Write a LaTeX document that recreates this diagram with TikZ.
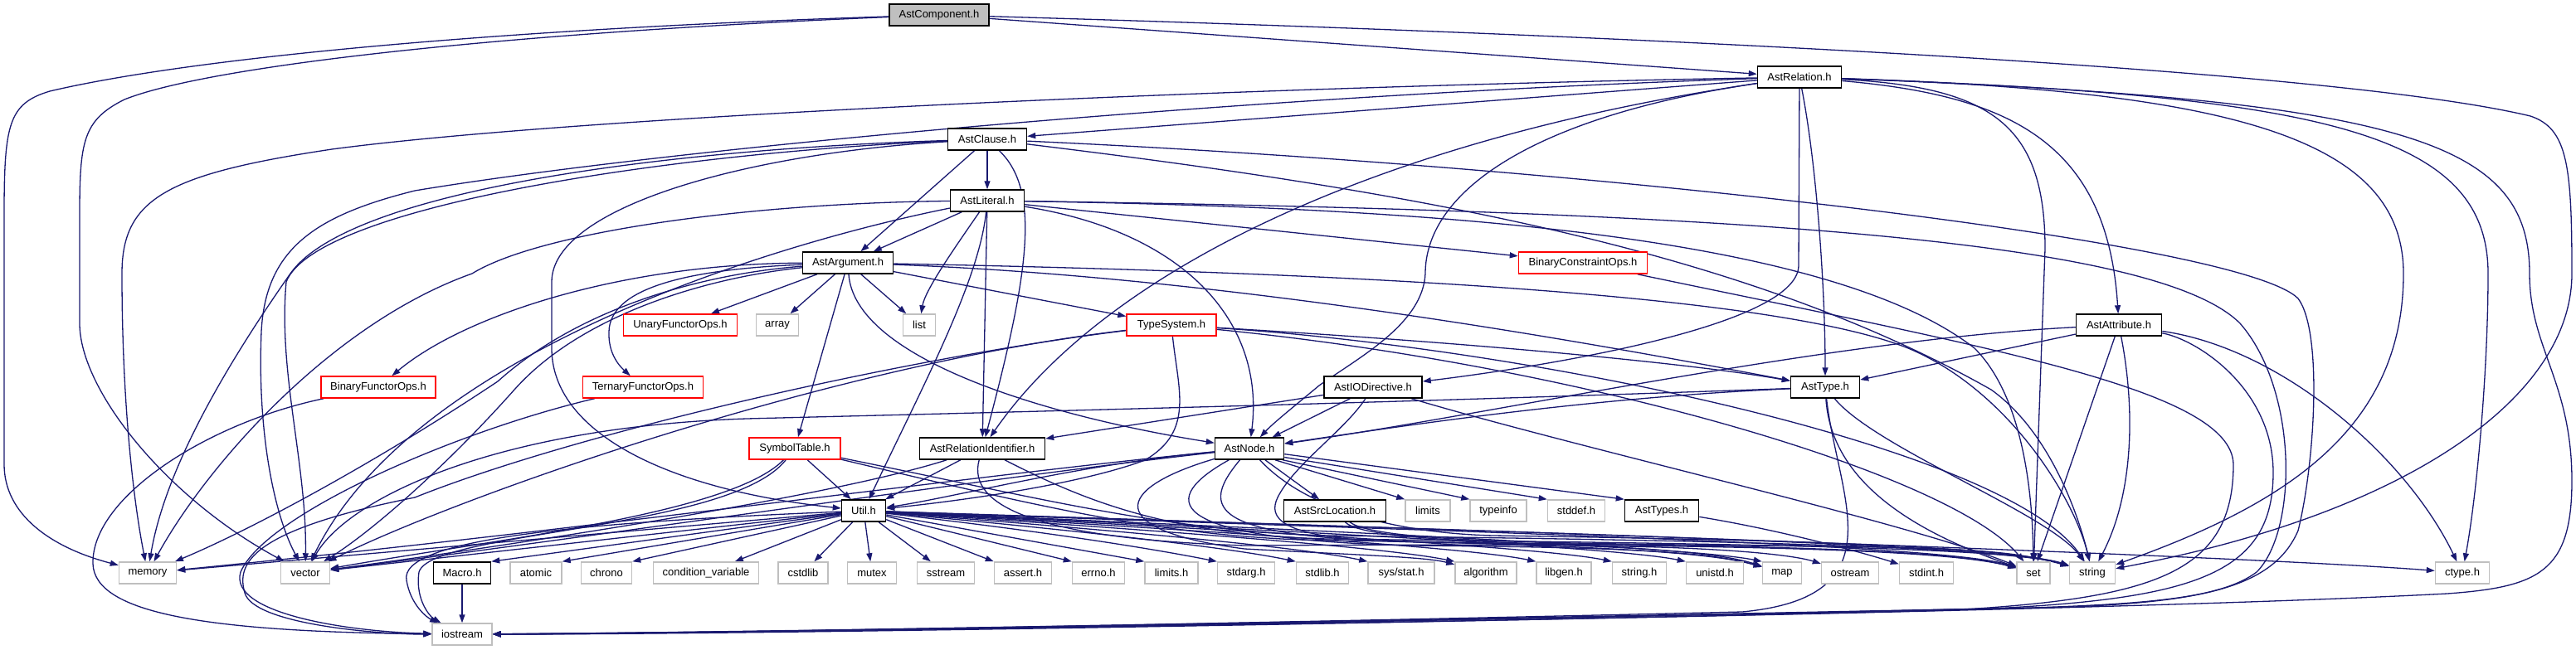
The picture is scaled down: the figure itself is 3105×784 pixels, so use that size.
\documentclass[tikz,border=0pt]{standalone}
\usepackage{fontspec}
\setmainfont{Liberation Sans}
\usetikzlibrary{arrows.meta,backgrounds}
\definecolor{mb}{HTML}{191970}
\definecolor{gb}{HTML}{BFBFBF}
\begin{document}
\begin{tikzpicture}[x=1pt,y=-1pt,
  nd/.style={draw=black, line width=1.5pt, fill=white, minimum height=26pt, inner sep=0pt, font=\fontsize{13}{15}\selectfont},
  ext/.style={nd, draw=gb},
  trn/.style={nd, draw=red},
  e/.style={draw=mb, line width=1.3pt, -{Triangle[length=10pt,width=7pt]}}]
\useasboundingbox (0,0) rectangle (3105,784);
% ---------------- nodes ----------------
\node[nd,fill=gb,minimum width=120pt] (comp) at (1132,18) {AstComponent.h};
\node[nd,minimum width=101pt] (rel) at (2169,93) {AstRelation.h};
\node[nd,minimum width=95pt] (clause) at (1190,168) {AstClause.h};
\node[nd,minimum width=89pt] (lit) at (1190,242) {AstLiteral.h};
\node[nd,minimum width=109pt] (arg) at (1022,317) {AstArgument.h};
\node[trn,minimum width=155pt] (bco) at (1908,317) {BinaryConstraintOps.h};
\node[trn,minimum width=137pt] (ufo) at (820,392) {UnaryFunctorOps.h};
\node[ext,minimum width=51pt] (narray) at (937,392) {array};
\node[ext,minimum width=39pt] (nlist) at (1108,392) {list};
\node[trn,minimum width=108pt] (ts) at (1412,392) {TypeSystem.h};
\node[nd,minimum width=103pt] (attr) at (2554,392) {AstAttribute.h};
\node[trn,minimum width=138pt] (bfo) at (456,467) {BinaryFunctorOps.h};
\node[trn,minimum width=145pt] (tfo) at (775,467) {TernaryFunctorOps.h};
\node[nd,minimum width=118pt] (iodir) at (1655,467) {AstIODirective.h};
\node[nd,minimum width=83pt] (asttype) at (2200,467) {AstType.h};
\node[trn,minimum width=110pt] (symtab) at (958,541) {SymbolTable.h};
\node[nd,minimum width=151pt] (relid) at (1184,541) {AstRelationIdentifier.h};
\node[nd,minimum width=83pt] (astnode) at (1506,541) {AstNode.h};
\node[nd,minimum width=53pt] (util) at (1041,616) {Util.h};
\node[nd,minimum width=123pt] (srcloc) at (1609,616) {AstSrcLocation.h};
\node[ext,minimum width=54pt] (nlimits) at (1721,616) {limits};
\node[ext,minimum width=68pt] (ntypeinfo) at (1806,616) {typeinfo};
\node[ext,minimum width=69pt] (nstddef) at (1900,616) {stddef.h};
\node[nd,minimum width=89pt] (asttypes) at (2003,616) {AstTypes.h};
\node[ext,minimum width=69pt] (nmemory) at (178,691) {memory};
\node[ext,minimum width=59pt] (nvector) at (368,691) {vector};
\node[nd,minimum width=69pt] (macro) at (557,691) {Macro.h};
\node[ext,minimum width=62pt] (natomic) at (646,691) {atomic};
\node[ext,minimum width=61pt] (nchrono) at (731,691) {chrono};
\node[ext,minimum width=127pt] (ncondvar) at (851,691) {condition\_variable};
\node[ext,minimum width=60pt] (ncstdlib) at (968,691) {cstdlib};
\node[ext,minimum width=59pt] (nmutex) at (1051,691) {mutex};
\node[ext,minimum width=69pt] (nsstream) at (1140,691) {sstream};
\node[ext,minimum width=69pt] (nassert) at (1233,691) {assert.h};
\node[ext,minimum width=63pt] (nerrno) at (1324,691) {errno.h};
\node[ext,minimum width=64pt] (nlimitsh) at (1412,691) {limits.h};
\node[ext,minimum width=69pt] (nstdarg) at (1502,691) {stdarg.h};
\node[ext,minimum width=63pt] (nstdlib) at (1594,691) {stdlib.h};
\node[ext,minimum width=80pt] (nsysstat) at (1689,691) {sys/stat.h};
\node[ext,minimum width=74pt] (nalgorithm) at (1791,691) {algorithm};
\node[ext,minimum width=66pt] (nlibgen) at (1885,691) {libgen.h};
\node[ext,minimum width=65pt] (nstringh) at (1976,691) {string.h};
\node[ext,minimum width=69pt] (nunistd) at (2067,691) {unistd.h};
\node[ext,minimum width=47pt] (nmap) at (2148,691) {map};
\node[ext,minimum width=69pt] (nostream) at (2230,691) {ostream};
\node[ext,minimum width=65pt] (nstdint) at (2322,691) {stdint.h};
\node[ext,minimum width=40pt] (nset) at (2451,691) {set};
\node[ext,minimum width=55pt] (nstring) at (2522,691) {string};
\node[ext,minimum width=65pt] (nctype) at (2968,691) {ctype.h};
\node[ext,minimum width=72pt] (niostream) at (557,765) {iostream};
% ---------------- edges ----------------
\begin{scope}[on background layer]
\fill[white] (0,0) rectangle (3105,784);
% AstComponent
\draw[e] (comp) .. controls (600,35) and (230,70) .. (60,110) .. controls (10,125) and (5,150) .. (5,260) -- (5,560) .. controls (5,620) and (60,660) .. (nmemory);
\draw[e] (comp) .. controls (600,40) and (250,80) .. (150,120) .. controls (100,145) and (96,170) .. (96,260) -- (96,390) .. controls (96,470) and (200,600) .. (nvector);
\draw[e] (comp) -- (rel);
\draw[e] (comp) .. controls (1900,40) and (2800,80) .. (3050,140) .. controls (3095,155) and (3100,200) .. (3100,330) .. controls (3100,480) and (2900,620) .. (nstring);
% AstRelation
\draw[e] (rel) -- (clause);
\draw[e] (rel) .. controls (1500,105) and (700,140) .. (400,180) .. controls (200,210) and (147,240) .. (147,330) .. controls (147,480) and (160,600) .. (nmemory);
\draw[e] (rel) .. controls (1500,115) and (800,180) .. (500,230) .. controls (380,260) and (320,300) .. (315,400) .. controls (310,520) and (330,620) .. (nvector);
\draw[e] (rel) -- (2168,320) .. controls (2168,400) and (1800,450) .. (iodir);
\draw[e] (rel) .. controls (2190,200) and (2200,350) .. (asttype);
\draw[e] (rel) .. controls (1850,140) and (1718,230) .. (1718,330) .. controls (1715,390) and (1640,430) .. (1590,465) .. controls (1560,490) and (1535,510) .. (astnode);
\draw[e] (rel) .. controls (1650,170) and (1330,330) .. (relid);
\draw[e] (rel) .. controls (2420,115) and (2540,170) .. (attr);
\draw[e] (rel) .. controls (2400,105) and (2465,150) .. (2465,300) -- (nset);
\draw[e] (rel) .. controls (2700,110) and (2897,170) .. (2897,330) .. controls (2897,520) and (2750,610) .. (nstring);
\draw[e] (rel) .. controls (2800,115) and (2999,160) .. (2999,330) .. controls (2999,450) and (2985,600) .. (nctype);
\draw[e] (rel) .. controls (2900,120) and (3049,170) .. (3049,330) .. controls (3049,420) and (3100,460) .. (3100,580) .. controls (3100,690) and (3060,708) .. (2950,716) .. controls (2500,740) and (1200,760) .. (niostream);
% AstClause
\draw[e] (clause) -- (lit);
\draw[e] (clause) -- (arg);
\draw[e] (clause) .. controls (1255,230) and (1240,330) .. (relid);
\draw[e] (clause) .. controls (900,185) and (665,250) .. (665,340) -- (665,420) .. controls (665,520) and (800,590) .. (util);
\draw[e] (clause) .. controls (800,180) and (420,230) .. (350,330) .. controls (280,430) and (200,560) .. (nmemory);
\draw[e] (clause) .. controls (800,185) and (380,250) .. (345,340) .. controls (335,450) and (370,560) .. (nvector);
\draw[e] (clause) .. controls (1700,230) and (2100,300) .. (2400,470) .. controls (2470,520) and (2505,620) .. (nstring);
\draw[e] (clause) .. controls (1900,200) and (2700,290) .. (2770,360) .. controls (2800,400) and (2790,560) .. (2770,640) .. controls (2740,710) and (2650,725) .. (2500,732) .. controls (1700,750) and (900,763) .. (niostream);
% AstLiteral
\draw[e] (lit) -- (arg);
\draw[e] (lit) .. controls (1150,300) and (1115,350) .. (nlist);
\draw[e] (lit) -- (relid);
\draw[e] (lit) .. controls (1180,340) and (1110,470) .. (util);
\draw[e] (lit) .. controls (1430,280) and (1525,390) .. (astnode);
\draw[e] (lit) -- (bco);
\draw[e] (lit) .. controls (900,245) and (650,280) .. (569,330) .. controls (400,390) and (250,560) .. (nmemory);
\draw[e] (lit) .. controls (950,290) and (500,420) .. (nvector);
\draw[e] (lit) .. controls (1700,250) and (2200,280) .. (2380,420) .. controls (2440,480) and (2450,600) .. (nset);
\draw[e] (lit) .. controls (2100,255) and (2600,290) .. (2700,390) .. controls (2770,470) and (2770,640) .. (2720,690) .. controls (2680,720) and (2600,728) .. (2450,733) .. controls (1700,748) and (900,763) .. (niostream);
% AstArgument
\draw[e] (arg) -- (ufo);
\draw[e] (arg) -- (narray);
\draw[e] (arg) -- (nlist);
\draw[e] (arg) -- (symtab);
\draw[e] (arg) .. controls (820,325) and (735,350) .. (734,400) .. controls (733,425) and (745,440) .. (tfo);
\draw[e] (arg) .. controls (750,318) and (560,380) .. (bfo);
\draw[e] (arg) .. controls (1030,430) and (1250,500) .. (astnode);
\draw[e] (arg) -- (ts);
\draw[e] (arg) .. controls (1500,335) and (1950,420) .. (asttype);
\draw[e] (arg) .. controls (850,330) and (700,370) .. (600,460) .. controls (450,560) and (300,640) .. (nmemory);
\draw[e] (arg) .. controls (850,335) and (700,380) .. (620,470) .. controls (540,560) and (450,640) .. (nvector);
\draw[e] (arg) .. controls (1700,330) and (2150,360) .. (2300,420) .. controls (2420,470) and (2500,600) .. (nstring);
% TypeSystem
\draw[e] (ts) .. controls (1800,415) and (2050,440) .. (asttype);
\draw[e] (ts) .. controls (1420,470) and (1440,520) .. (1380,555) .. controls (1300,585) and (1150,605) .. (util);
\draw[e] (ts) .. controls (1000,440) and (550,600) .. (nvector);
\draw[e] (ts) .. controls (1100,430) and (700,520) .. (500,600) .. controls (300,640) and (285,680) .. (295,715) .. controls (305,752) and (450,765) .. (niostream);
\draw[e] (ts) .. controls (1900,440) and (2350,570) .. (nset);
\draw[e] (ts) .. controls (1850,420) and (2420,540) .. (nstring);
% AstIODirective
\draw[e] (iodir) -- (astnode);
\draw[e] (iodir) -- (relid);
\draw[e] (iodir) .. controls (1620,520) and (1560,560) .. (1540,600) .. controls (1528,625) and (1545,645) .. (1650,652) .. controls (1900,658) and (2060,665) .. (nmap);
\draw[e] (iodir) .. controls (1900,540) and (2300,630) .. (nset);
% AstType
\draw[e] (asttype) .. controls (1900,480) and (1650,520) .. (astnode);
\draw[e] (asttype) .. controls (1700,485) and (1300,495) .. (900,505) .. controls (600,515) and (420,600) .. (nvector);
\draw[e] (asttype) .. controls (2206,563) and (2274,630) .. (nset);
\draw[e] (asttype) .. controls (2260,540) and (2470,620) .. (nstring);
\draw[e] (asttype) .. controls (2215,600) and (2290,720) .. (2100,738) .. controls (1500,752) and (800,765) .. (niostream);
% AstAttribute
\draw[e] (attr) -- (asttype);
\draw[e] (attr) .. controls (2200,410) and (1800,500) .. (astnode);
\draw[e] (attr) -- (nset);
\draw[e] (attr) .. controls (2575,500) and (2570,600) .. (nstring);
\draw[e] (attr) .. controls (2650,410) and (2740,470) .. (2740,570) .. controls (2740,690) and (2650,722) .. (2400,734) .. controls (1700,750) and (900,764) .. (niostream);
\draw[e] (attr) .. controls (2750,420) and (2900,550) .. (nctype);
% BinaryConstraintOps
\draw[e] (bco) .. controls (2400,420) and (2690,470) .. (2692,560) .. controls (2692,690) and (2600,722) .. (2350,736) .. controls (1700,752) and (900,765) .. (niostream);
% SymbolTable
\draw[e] (symtab) -- (util);
\draw[e] (symtab) .. controls (880,620) and (600,650) .. (nvector);
\draw[e] (symtab) .. controls (880,640) and (520,640) .. (505,690) .. controls (500,725) and (520,745) .. (niostream);
\draw[e] (symtab) .. controls (1250,610) and (1400,648) .. (1600,652) .. controls (1900,655) and (2060,662) .. (nmap);
\draw[e] (symtab) .. controls (1250,600) and (1400,640) .. (1600,646) .. controls (2100,652) and (2420,660) .. (nstring);
% AstRelationIdentifier
\draw[e] (relid) -- (util);
\draw[e] (relid) .. controls (1000,600) and (600,660) .. (nvector);
\draw[e] (relid) .. controls (1300,600) and (1400,645) .. (1600,650) .. controls (2100,656) and (2420,660) .. (nstring);
\draw[e] (relid) .. controls (1165,610) and (1250,650) .. (1500,658) .. controls (2000,655) and (2340,660) .. (nset);
% AstNode
\draw[e] (astnode) -- (srcloc);
\draw[e] (astnode.-24) -- (nlimits.north west);
\draw[e] (astnode.-19) -- (ntypeinfo.north west);
\draw[e] (astnode.-14) -- (nstddef.north west);
\draw[e] (astnode.-9) -- (asttypes.north west);
\draw[e] (astnode) .. controls (1300,560) and (1150,600) .. (util);
\draw[e] (astnode) .. controls (1200,570) and (700,640) .. (nmemory);
\draw[e] (astnode) .. controls (1200,575) and (700,650) .. (nvector);
\draw[e] (astnode) .. controls (1340,590) and (1330,640) .. (1500,662) .. controls (1650,670) and (1720,672) .. (nalgorithm);
\draw[e] (astnode) .. controls (1400,600) and (1390,650) .. (1700,658) .. controls (1950,660) and (2060,665) .. (nmap);
\draw[e] (astnode) .. controls (1440,620) and (1460,655) .. (1800,655) .. controls (2100,658) and (2350,662) .. (nset);
\draw[e] (astnode) .. controls (1560,600) and (1650,642) .. (1800,646) .. controls (2200,652) and (2420,660) .. (nstring);
% Util
\draw[e] (util) -- (nmemory);
\draw[e] (util) -- (nvector);
\draw[e] (util) -- (macro.north east);
\draw[e] (util) -- (natomic.north east);
\draw[e] (util) -- (nchrono.north east);
\draw[e] (util) -- (ncondvar);
\draw[e] (util) -- (ncstdlib);
\draw[e] (util) -- (nmutex);
\draw[e] (util) -- (nsstream);
\draw[e] (util) -- (nassert.north west);
\draw[e] (util) -- (nerrno.north west);
\draw[e] (util) -- (nlimitsh.north west);
\draw[e] (util) .. controls (1250,640) and (1380,660) .. (nstdarg.north west);
\draw[e] (util) .. controls (1300,640) and (1480,660) .. (nstdlib.north west);
\draw[e] (util) .. controls (1350,640) and (1570,660) .. (nsysstat.north west);
\draw[e] (util) .. controls (1400,640) and (1670,660) .. (nalgorithm.north west);
\draw[e] (util) .. controls (1450,640) and (1770,660) .. (nlibgen.north west);
\draw[e] (util) .. controls (1500,640) and (1860,660) .. (nstringh.north west);
\draw[e] (util) .. controls (1550,640) and (1950,660) .. (nunistd.north west);
\draw[e] (util) .. controls (1600,640) and (2040,660) .. (nmap.north west);
\draw[e] (util) .. controls (1700,640) and (2340,655) .. (nset);
\draw[e] (util) .. controls (1750,640) and (2410,655) .. (nstring);
\draw[e] (util) .. controls (1800,640) and (2700,670) .. (nctype);
\draw[e] (util) .. controls (700,630) and (480,650) .. (490,700) .. controls (495,730) and (515,745) .. (niostream);
% AstSrcLocation, AstTypes
\draw[e] (srcloc) .. controls (1640,650) and (1800,655) .. (2000,660) .. controls (2120,664) and (2170,672) .. (nostream);
\draw[e] (srcloc) .. controls (1660,655) and (1900,655) .. (2100,658) .. controls (2350,660) and (2420,662) .. (nstring);
\draw[e] (asttypes) .. controls (2150,640) and (2250,668) .. (nstdint);
% functor ops, Macro
\draw[e] (macro) -- (niostream);
\draw[e] (bfo) .. controls (250,510) and (110,600) .. (112,680) .. controls (114,740) and (250,762) .. (niostream);
\draw[e] (tfo) .. controls (550,520) and (320,620) .. (290,690) .. controls (275,740) and (420,762) .. (niostream);
\end{scope}
\end{tikzpicture}
\end{document}
